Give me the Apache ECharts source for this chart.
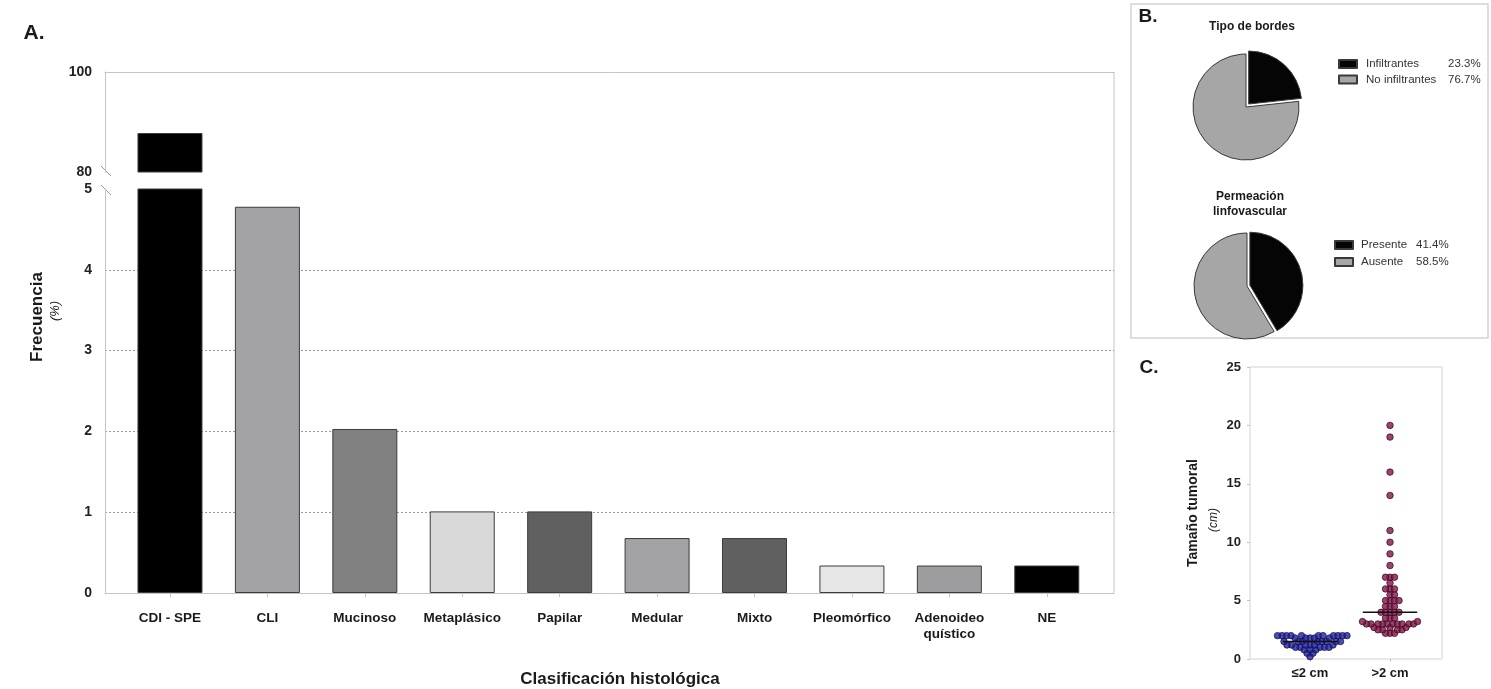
<!DOCTYPE html>
<html>
<head>
<meta charset="utf-8">
<title>Clasificación histológica</title>
<script src="https://cdn.jsdelivr.net/npm/echarts@6/dist/echarts.min.js"></script>
<style>
html,body{margin:0;padding:0;background:#fff;}
#main{width:1491px;height:689px;}
</style>
</head>
<body>
<div id="main"></div>
<script>
// Panel A: frecuencia por tipo histologico
var categorias = ['CDI - SPE', 'CLI', 'Mucinoso', 'Metaplásico', 'Papilar', 'Medular', 'Mixto', 'Pleomórfico', 'Adenoideo\nquístico', 'NE'];
var frecuencia = [87.8, 4.78, 2.03, 1.01, 1.01, 0.68, 0.68, 0.34, 0.34, 0.34];
var ticksAlto = [80, 100];
var ticksBajo = [0, 1, 2, 3, 4, 5];

// Panel B: pies
var bordesNombres = ['Infiltrantes', 'No infiltrantes'];
var bordesPct = [23.3, 76.7];
var permeNombres = ['Presente', 'Ausente'];
var permePct = [41.4, 58.5];

// Panel C: tamano tumoral (cm)
var grupos = ['≤2 cm', '>2 cm'];
var tamanoMenor2 = [2, 2, 2, 2, 2, 2, 2, 2, 2, 2, 2, 1.8, 1.8, 1.8, 1.8, 1.8, 1.5, 1.5, 1.5, 1.5, 1.5, 1.5, 1.5, 1.5,
    1.2, 1.2, 1.2, 1.2, 1.2, 1.2, 1, 1, 1, 1, 1, 0.8, 0.8, 0.8, 0.5, 0.5, 0.2];
var tamanoMayor2 = [20, 19, 16, 14, 11, 10, 9, 8, 7, 7, 7, 6.5, 6, 6, 6, 5.5, 5.5, 5, 5, 5, 5, 4.5, 4.5, 4.5,
    4, 4, 4, 4, 4, 3.5, 3.5, 3.5, 3.2, 3.2, 3, 3, 3, 3, 3, 3, 3, 3, 3, 3, 2.7, 2.7, 2.7, 2.5, 2.5, 2.5, 2.5, 2.2, 2.2, 2.2];
var ticksTamano = [0, 5, 10, 15, 20, 25];

var coloresBarras = ['#000000', '#a3a3a5', '#818181', '#d9d9d9', '#606060', '#a3a3a5', '#606060', '#e6e6e6', '#9d9d9f', '#000000'];
var fuente = 'Liberation Sans, Arial, sans-serif';
var gris = '#c4c4c4';

(function (win) {
    var app = {
        init: function () {
            this.chart = echarts.init(document.getElementById('main'), null, {renderer: 'canvas'});
            this.chart.setOption(this.buildOption());
        },
        mediana: function (arr) {
            var s = arr.slice().sort(function (a, b) { return a - b; });
            var m = Math.floor(s.length / 2);
            return s.length % 2 ? s[m] : (s[m - 1] + s[m]) / 2;
        },
        // beeswarm sencillo: separa los puntos en horizontal (se permite algo de solape)
        enjambre: function (valores, centro) {
            var sx = 80, sy = 292 / 25, d = 4.4;
            var puestos = [], out = [];
            var orden = valores.slice().sort(function (a, b) { return a - b; });
            for (var i = 0; i < orden.length; i++) {
                var py = orden[i] * sy, k = 0, cand = 0;
                while (true) {
                    cand = k === 0 ? 0 : (k % 2 ? 1 : -1) * Math.ceil(k / 2) * 0.5;
                    var libre = true;
                    for (var j = 0; j < puestos.length; j++) {
                        var dx = puestos[j].x - cand, dy = puestos[j].y - py;
                        if (dx * dx + dy * dy < d * d) { libre = false; break; }
                    }
                    if (libre) break;
                    k++;
                }
                puestos.push({x: cand, y: py});
                out.push([centro + cand / sx, orden[i]]);
            }
            return out;
        },
        barras: function (gi) {
            return {
                type: 'bar', xAxisIndex: gi, yAxisIndex: gi, barWidth: 65, clip: true, silent: true,
                itemStyle: {borderColor: '#3c3c3c', borderWidth: 1},
                data: frecuencia.map(function (v, i) {
                    return {value: [i, v], itemStyle: {color: coloresBarras[i]}};
                })
            };
        },
        pie: function (nombres, pct, centro, offset) {
            var colores = ['#050505', '#a6a6a6'];
            return {
                type: 'pie', center: centro, radius: 53, startAngle: 90, clockwise: true,
                selectedMode: 'single', selectedOffset: offset, silent: true,
                label: {show: false}, labelLine: {show: false},
                itemStyle: {borderColor: '#3a3a3a', borderWidth: 1},
                data: nombres.map(function (n, i) {
                    return {name: n, value: pct[i], selected: i === 0, itemStyle: {color: colores[i]}};
                })
            };
        },
        leyenda: function (nombres, pct, left, top, gap, anchoNombre, pad) {
            return {
                data: nombres, orient: 'vertical', left: left, top: top, itemGap: gap,
                itemWidth: 18, itemHeight: 8, icon: 'rect', selectedMode: false,
                formatter: function (name) {
                    return '{n|' + name + '}{v|' + pct[nombres.indexOf(name)].toFixed(1) + '%}';
                },
                textStyle: {
                    fontFamily: fuente, fontSize: 11.5, color: '#333', lineHeight: 12,
                    rich: {
                        n: {width: anchoNombre, padding: [0, 0, 0, pad], fontFamily: fuente, fontSize: 11.5, color: '#333'},
                        v: {fontFamily: fuente, fontSize: 11.5, color: '#333'}
                    }
                }
            };
        },
        texto: function (t, x, y, font, rot) {
            return {
                type: 'text', x: x, y: y, rotation: rot || 0, silent: true,
                style: {text: t, font: font, fill: '#1a1a1a', textAlign: 'center', textVerticalAlign: 'middle'}
            };
        },
        buildOption: function () {
            var idx = categorias.map(function (c, i) { return i; });
            var xMin = -0.667, xMax = 9.69;
            var lblY = {fontFamily: fuente, fontWeight: 'bold', fontSize: 14, color: '#222', margin: 13};
            var m1 = this.mediana(tamanoMenor2), m2 = this.mediana(tamanoMayor2);
            return {
                animation: false,
                backgroundColor: '#fff',
                grid: [
                    {left: 105, top: 72, width: 1009, height: 100},
                    {left: 105, top: 189, width: 1009, height: 404},
                    {left: 1250, top: 367, width: 192, height: 292, show: true, borderColor: '#d2d2d2', borderWidth: 1}
                ],
                xAxis: [
                    {gridIndex: 0, type: 'value', position: 'top', min: xMin, max: xMax,
                        axisLine: {show: true, lineStyle: {color: gris}}, axisTick: {show: false},
                        axisLabel: {show: false}, splitLine: {show: false}},
                    {gridIndex: 1, type: 'value', min: xMin, max: xMax,
                        axisLine: {show: true, lineStyle: {color: gris}},
                        axisTick: {show: true, customValues: idx, length: 4, lineStyle: {color: gris}},
                        axisLabel: {customValues: idx, formatter: function (v) { return categorias[Math.round(v)]; },
                            fontFamily: fuente, fontWeight: 'bold', fontSize: 13.5, color: '#1a1a1a', margin: 17, lineHeight: 16},
                        splitLine: {show: false}},
                    {gridIndex: 2, type: 'value', min: -0.75, max: 1.65,
                        axisLine: {show: false},
                        axisTick: {show: true, customValues: [0, 1], length: 3, lineStyle: {color: gris}},
                        axisLabel: {customValues: [0, 1], formatter: function (v) { return grupos[Math.round(v)]; },
                            fontFamily: fuente, fontWeight: 'bold', fontSize: 13, color: '#1a1a1a', margin: 8},
                        splitLine: {show: false}}
                ],
                yAxis: [
                    {gridIndex: 0, type: 'value', min: ticksAlto[0], max: ticksAlto[ticksAlto.length - 1], interval: 20,
                        axisLine: {show: true, onZero: false, lineStyle: {color: gris}}, axisTick: {show: false},
                        axisLabel: lblY, splitLine: {show: false}},
                    {gridIndex: 1, type: 'value', min: ticksBajo[0], max: ticksBajo[ticksBajo.length - 1], interval: 1,
                        axisLine: {show: true, onZero: false, lineStyle: {color: gris}}, axisTick: {show: false},
                        axisLabel: lblY,
                        splitLine: {show: true, showMinLine: false, showMaxLine: false,
                            lineStyle: {type: [2, 2], color: '#9a9a9a', width: 1}}},
                    {gridIndex: 2, type: 'value', min: ticksTamano[0], max: ticksTamano[ticksTamano.length - 1], interval: 5,
                        axisLine: {show: false, onZero: false},
                        axisTick: {show: true, length: 3, lineStyle: {color: gris}},
                        axisLabel: {fontFamily: fuente, fontWeight: 'bold', fontSize: 13, color: '#222', margin: 9},
                        splitLine: {show: false}}
                ],
                legend: [
                    this.leyenda(bordesNombres, bordesPct, 1333, 53, 3.5, 82, 4),
                    this.leyenda(permeNombres, permePct, 1329, 234, 5, 55, 3)
                ],
                series: [
                    this.barras(0),
                    this.barras(1),
                    this.pie(bordesNombres, bordesPct, [1246, 107], 4),
                    this.pie(permeNombres, permePct, [1247, 286], 3),
                    {type: 'scatter', xAxisIndex: 2, yAxisIndex: 2, symbolSize: 6.5, silent: true,
                        itemStyle: {color: '#22229c', borderColor: '#0c0c4c', borderWidth: 0.9},
                        data: this.enjambre(tamanoMenor2, 0)},
                    {type: 'scatter', xAxisIndex: 2, yAxisIndex: 2, symbolSize: 6.5, silent: true,
                        itemStyle: {color: '#82164a', borderColor: '#35061c', borderWidth: 0.9},
                        data: this.enjambre(tamanoMayor2, 1)},
                    {type: 'line', xAxisIndex: 2, yAxisIndex: 2, symbol: 'none', silent: true, z: 5,
                        lineStyle: {color: '#111', width: 1.5}, data: [[-0.34, m1], [0.34, m1]]},
                    {type: 'line', xAxisIndex: 2, yAxisIndex: 2, symbol: 'none', silent: true, z: 5,
                        lineStyle: {color: '#111', width: 1.5}, data: [[0.66, m2], [1.34, m2]]}
                ],
                graphic: [
                    // marco derecho panel A y corte del eje
                    {type: 'line', silent: true, shape: {x1: 1114, y1: 72, x2: 1114, y2: 593}, style: {stroke: gris, lineWidth: 1}},
                    {type: 'line', silent: true, shape: {x1: 101, y1: 166, x2: 111, y2: 176}, style: {stroke: '#999', lineWidth: 1}},
                    {type: 'line', silent: true, shape: {x1: 101, y1: 185, x2: 111, y2: 195}, style: {stroke: '#999', lineWidth: 1}},
                    // caja del panel B
                    {type: 'rect', silent: true, shape: {x: 1131, y: 4, width: 357, height: 334},
                        style: {fill: 'none', stroke: '#d4d4d4', lineWidth: 1.5}},
                    this.texto('A.', 34, 33, 'bold 21px ' + fuente),
                    this.texto('B.', 1148, 17, 'bold 19px ' + fuente),
                    this.texto('C.', 1149, 368, 'bold 19px ' + fuente),
                    this.texto('Frecuencia', 37, 317, 'bold 17px ' + fuente, Math.PI / 2),
                    this.texto('(%)', 55, 311, 'italic 13px ' + fuente, Math.PI / 2),
                    this.texto('Clasificación histológica', 620, 679, 'bold 17px ' + fuente),
                    this.texto('Tipo de bordes', 1252, 27, 'bold 12px ' + fuente),
                    this.texto('Permeación', 1250, 197, 'bold 12px ' + fuente),
                    this.texto('linfovascular', 1250, 212, 'bold 12px ' + fuente),
                    this.texto('Tamaño tumoral', 1193, 513, 'bold 14px ' + fuente, Math.PI / 2),
                    this.texto('(cm)', 1214, 520, 'italic 12px ' + fuente, Math.PI / 2)
                ]
            };
        }
    };
    app.init();
})(window);
</script>
</body>
</html>
